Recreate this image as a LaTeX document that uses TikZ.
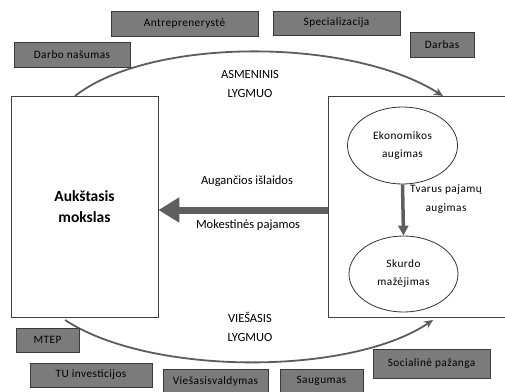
\documentclass[tikz,border=0pt]{standalone}
\usepackage{fontspec}
\setmainfont{Carlito}
\newfontfamily\spacedfont[LetterSpace=4]{Carlito}
\usetikzlibrary{shapes.geometric,arrows.meta}
\definecolor{boxfill}{HTML}{7B7B7B}
\definecolor{boxline}{HTML}{3A3A3A}
\definecolor{arcgray}{HTML}{5C5C5C}
\definecolor{arrgray}{HTML}{5E5E5E}
\tikzset{
  gbox/.style={draw=boxline, fill=boxfill, line width=0.8pt, inner sep=0pt, font=\spacedfont\fontsize{11.3}{13}\selectfont},
  frame/.style={draw=black!75, line width=0.8pt, inner sep=0pt},
  oval/.style={ellipse, draw=black!80, line width=0.8pt, inner sep=0pt, align=center, font=\spacedfont\fontsize{11.3}{18}\selectfont},
  lbl/.style={inner sep=0pt, align=center, font=\fontsize{12.5}{18.5}\selectfont},
  arc/.style={draw=arcgray, line width=1.8pt, -{Stealth[length=9pt,width=8pt]}},
}
\begin{document}
\begin{tikzpicture}[x=1pt,y=-1pt]
\useasboundingbox (0,0) rectangle (505,391);
\clip (0,0) rectangle (505,391);
% big frames
\node[frame, minimum width=147pt, minimum height=221pt, align=center,
      font=\fontsize{15.5}{20.5}\selectfont\bfseries] (L) at (84.5,206.5) {Aukštasis\\mokslas};
\node[frame, minimum width=190pt, minimum height=221pt] (R) at (423,206.5) {};
% ellipses
\node[oval, minimum width=110pt, minimum height=77pt] (E1) at (402.5,145.5) {Ekonomikos\\augimas};
\node[oval, minimum width=109pt, minimum height=76pt] (E2) at (403.5,274) {Skurdo\\mažėjimas};
\draw[draw=arrgray, line width=3.5pt, -{Triangle[length=10pt,width=10pt]}] (E1.south) -- (E2.north);
\node[lbl, font=\spacedfont\fontsize{11.3}{18.5}\selectfont] (tv) at (446,199) {Tvarus pajamų\\augimas};
% big horizontal arrow
\draw[draw=arrgray, line width=7pt, -{Triangle[length=21pt,width=24pt]}] ([yshift=-3.5pt]R.west) -- ([yshift=-3.5pt]L.east);
\node[lbl] (ai) at (247,181) {Augančios išlaidos};
\node[lbl] (mp) at (248,225) {Mokestinės pajamos};
% arcs
\coordinate (a1) at (75,96);
\coordinate (a2) at (443,96);
\coordinate (b1) at (65,320);
\coordinate (b2) at (433,320);
\draw[arc] (a1) .. controls (150,37) and (350,37) .. (a2);
\draw[arc] (b1) .. controls (150,376) and (350,376) .. (b2);
\node[lbl] (as) at (250,84) {ASMENINIS\\LYGMUO};
\node[lbl] (vs) at (250,327) {VIEŠASIS\\LYGMUO};
% gray boxes
\node[gbox, minimum width=147pt, minimum height=25pt] (b-ant) at (184.5,23.5) {Antreprenerystė};
\node[gbox, minimum width=127pt, minimum height=24pt] (b-spe) at (336.5,23) {Specializacija};
\node[gbox, minimum width=64pt, minimum height=25pt] (b-dar) at (442,44.5) {Darbas};
\node[gbox, minimum width=116pt, minimum height=25pt] (b-dn) at (72,54.5) {Darbo našumas};
\node[gbox, minimum width=63pt, minimum height=24pt] (b-mtep) at (47.5,340) {MTEP};
\node[gbox, minimum width=122pt, minimum height=24pt] (b-tu) at (91,375) {TU investicijos};
\node[gbox, minimum width=105pt, minimum height=24pt] (b-vv) at (215.5,381) {Viešasisvaldymas};
\node[gbox, minimum width=83pt, minimum height=24pt] (b-sau) at (321.5,381) {Saugumas};
\node[gbox, minimum width=117pt, minimum height=29pt] (b-soc) at (431.5,363.5) {Socialinė pažanga};
\end{tikzpicture}
\end{document}
